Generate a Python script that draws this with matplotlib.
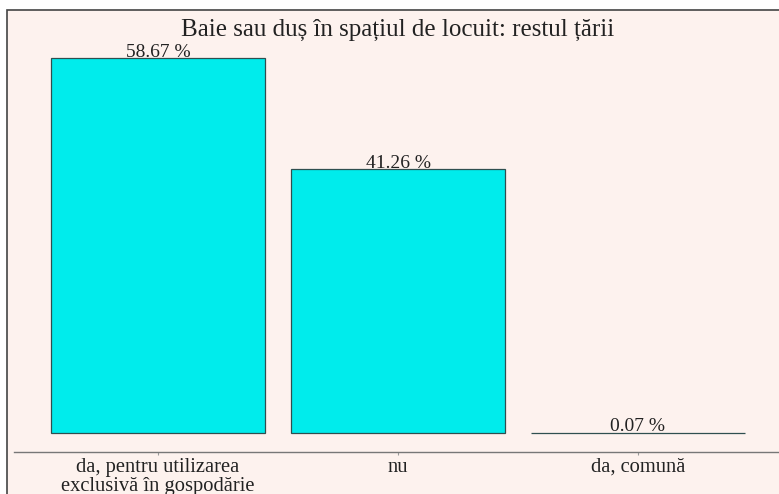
import matplotlib
matplotlib.use("Agg")
import matplotlib.pyplot as plt
from matplotlib.patches import Rectangle

# date
categorii = ["da, pentru utilizarea\nexclusivă în gospodărie", "nu", "da, comună"]
procente = [58.67, 41.26, 0.07]
titlu = "Baie sau duș în spațiul de locuit: restul țării"

W, H = 779, 494
fundal = "#FDF2EE"
culoare_bara = "#00ECEC"

plt.rcParams["font.family"] = ["Liberation Serif", "DejaVu Serif"]

fig = plt.figure(figsize=(W / 100, H / 100), dpi=100)
fig.patch.set_facecolor("white")

# chenarul graficului (taiat la dreapta si jos)
fig.patches.append(Rectangle((7 / W, -0.1), 1.2, (H - 10) / H + 0.1,
                             transform=fig.transFigure, facecolor=fundal,
                             edgecolor="#444444", linewidth=1.2, zorder=-5))

ax = fig.add_axes([14 / W, (H - 452) / H, (W - 14) / W, (452 - 45) / H])
ax.set_zorder(5)
ax.set_facecolor("none")

x = range(len(categorii))
bare = ax.bar(x, procente, width=0.89, color=culoare_bara,
              edgecolor="#2f4f4f", linewidth=0.9)

for xi, v in zip(x, procente):
    ax.text(xi, v + 0.2, f"{v:.2f} %", ha="center", va="baseline", fontsize=14,
            color="#222222")

ax.set_xlim((14 - 158) / 240, (W - 158) / 240)
ax.set_ylim(-19 / 6.39, (433 - 45) / 6.39)

for s in ["top", "right", "left"]:
    ax.spines[s].set_visible(False)
ax.spines["bottom"].set_color("#777777")
ax.spines["bottom"].set_linewidth(1.0)

ax.set_yticks([])
ax.set_xticks(list(x))
ax.set_xticklabels(categorii, fontsize=14.8, color="#222222", linespacing=1.0)
ax.tick_params(axis="x", length=2, width=0.8, color="#999999", pad=2)

fig.text(398 / W, 1 - 30 / H, titlu, ha="center", va="center", fontsize=18,
         color="#222222", zorder=6)

fig.savefig("out.png", dpi=100, facecolor=fig.get_facecolor())
